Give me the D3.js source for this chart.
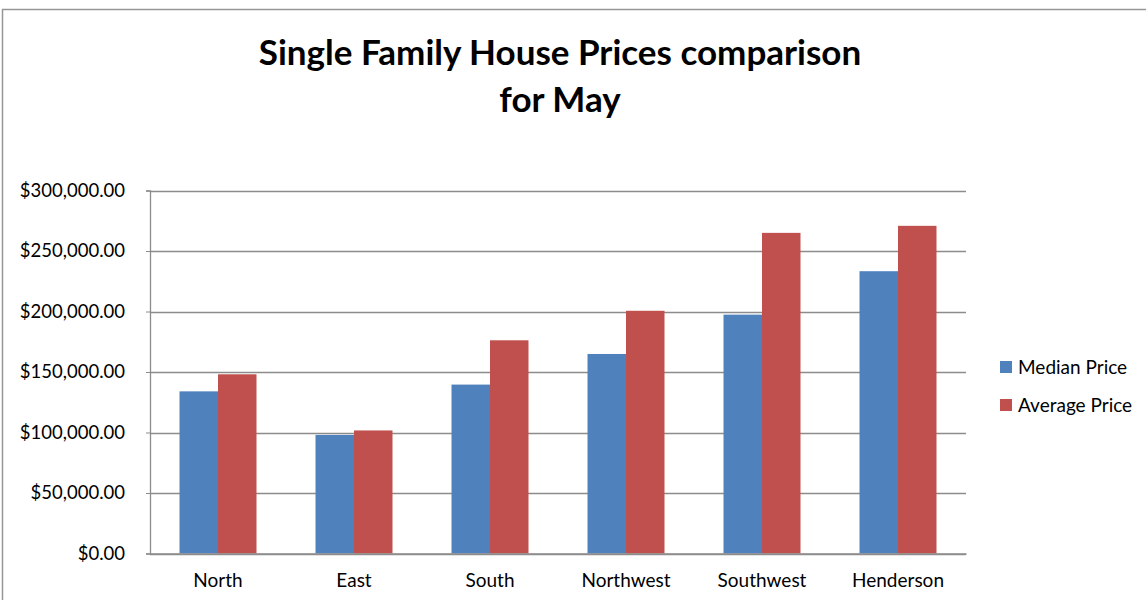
<!DOCTYPE html>
<html>
<head>
<meta charset="utf-8">
<script src="https://cdn.jsdelivr.net/npm/d3@7"></script>
<style>
  body { margin: 0; background: #fff; }
  svg { display: block; font-family: Lato, "Open Sans", sans-serif; }
</style>
</head>
<body>
<svg id="chart" width="1146" height="600"></svg>
<script>
// datos
var regiones = ["North", "East", "South", "Northwest", "Southwest", "Henderson"];
var medianPrice = [134000, 98000, 139600, 164900, 197400, 233300];
var averagePrice = [148100, 101700, 176200, 200600, 265000, 270800];
var series = ["Median Price", "Average Price"];
var yTicks = [0, 50000, 100000, 150000, 200000, 250000, 300000];

var colores = ["#4F81BD", "#C0504D"];

(function() {
var svg = d3.select("#chart");

// borde exterior
svg.append("rect")
  .attr("x", 2.5).attr("y", 9.5)
  .attr("width", 1160).attr("height", 620)
  .attr("fill", "none")
  .attr("stroke", "#969696")
  .attr("stroke-width", 1.5);

// titulo
var titulo = svg.append("text")
  .attr("x", 560).attr("text-anchor", "middle")
  .attr("font-weight", "bold").attr("font-size", 35)
  .attr("fill", "#000");
titulo.append("tspan").attr("x", 560).attr("y", 65).text("Single Family House Prices comparison");
titulo.append("tspan").attr("x", 560).attr("y", 112).text("for May");

var izq = 150, der = 966, arriba = 190.5, abajo = 553.5;

var x0 = d3.scaleBand().domain(regiones).range([izq, der]).paddingInner(0.434).paddingOuter(0.217);
var x1 = d3.scaleBand().domain(series).range([0, x0.bandwidth()]);
var y = d3.scaleLinear().domain([0, 300000]).range([abajo, arriba]);

// lineas de cuadricula
svg.append("g").selectAll("line")
  .data(yTicks)
  .join("line")
  .attr("x1", izq).attr("x2", der)
  .attr("y1", d => Math.round(y(d)) + 0.5)
  .attr("y2", d => Math.round(y(d)) + 0.5)
  .attr("stroke", "#8c8c8c")
  .attr("stroke-width", 1.3);

// barras
var datos = regiones.map(function(r, i) {
  return { region: r, valores: [medianPrice[i], averagePrice[i]] };
});

var grupos = svg.append("g").selectAll("g")
  .data(datos)
  .join("g")
  .attr("transform", d => "translate(" + x0(d.region) + ",0)");

grupos.selectAll("rect")
  .data(d => d.valores.map((v, j) => ({ serie: series[j], valor: v, j: j })))
  .join("rect")
  .attr("x", d => x1(d.serie))
  .attr("width", x1.bandwidth())
  .attr("y", d => y(d.valor))
  .attr("height", d => abajo - y(d.valor))
  .attr("fill", d => colores[d.j]);

// ejes
var fmt = d3.format("$,.2f");
var ejeY = svg.append("g")
  .attr("transform", "translate(" + izq + ",0)")
  .call(d3.axisLeft(y).tickValues(yTicks).tickFormat(fmt).tickSize(4).tickPadding(21));
ejeY.select(".domain").attr("stroke", "#8c8c8c").attr("stroke-width", 1.3);
ejeY.selectAll(".tick line").attr("stroke", "#8c8c8c");
ejeY.selectAll("text").attr("font-size", 18.5).attr("fill", "#000").attr("font-family", "Lato");

var ejeX = svg.append("g")
  .attr("transform", "translate(0," + abajo + ")")
  .call(d3.axisBottom(x0).tickSize(0).tickPadding(20));
ejeX.select(".domain").attr("stroke", "#8c8c8c").attr("stroke-width", 1.3);
ejeX.selectAll("text").attr("font-size", 19).attr("fill", "#000").attr("font-family", "Lato");

// leyenda
var leyenda = svg.append("g").selectAll("g")
  .data(series)
  .join("g")
  .attr("transform", (d, i) => "translate(1000," + (361 + i * 38) + ")");
leyenda.append("rect")
  .attr("width", 12).attr("height", 12)
  .attr("fill", (d, i) => colores[i]);
leyenda.append("text")
  .attr("x", 18).attr("y", 13)
  .attr("font-size", 19)
  .text(d => d);
})();
</script>
</body>
</html>
